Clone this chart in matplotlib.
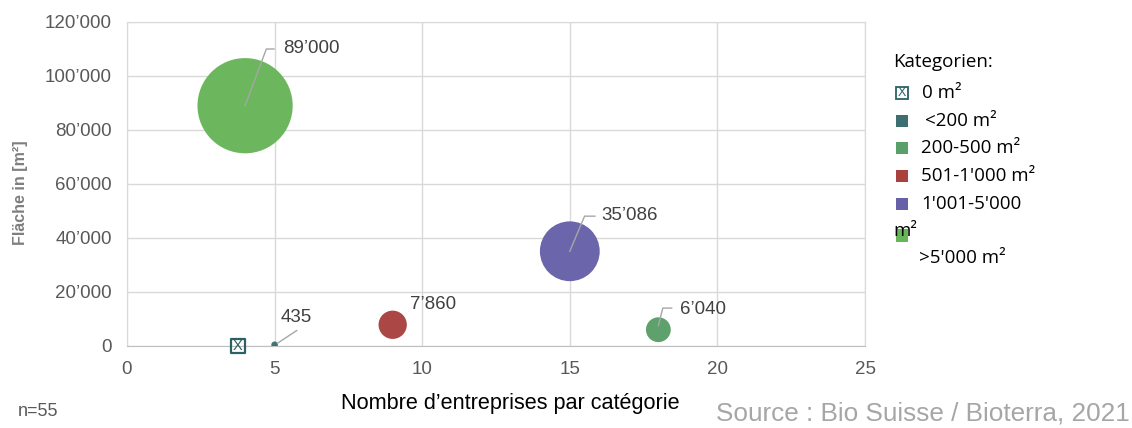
import matplotlib
matplotlib.use("Agg")
import matplotlib.pyplot as plt
from matplotlib.patches import Rectangle
from matplotlib.ticker import FuncFormatter

# Data
categories = ["0 m²", "<200 m²", "200-500 m²", "501-1'000 m²", "1'001-5'000 m²", ">5'000 m²"]
n_companies = [3.75, 5, 18, 9, 15, 4]
area_m2 = [0, 435, 6040, 7860, 35086, 89000]
labels = ["", "435", "6’040", "7’860", "35’086", "89’000"]
colors = ["#2b6163", "#3d6e70", "#5a9e68", "#a8413f", "#6660a8", "#67b559"]

W, H = 1132, 428
fig = plt.figure(figsize=(W / 100, H / 100), dpi=100)
ax = fig.add_axes([127 / W, 1 - 346 / H, (865 - 127) / W, (346 - 22) / H])

FONT = ["Liberation Sans", "DejaVu Sans"]
CAL = ["Open Sans", "DejaVu Sans"]
TICK_C = "#595959"
GRID_C = "#d9d9d9"

ax.set_xlim(0, 25)
ax.set_ylim(0, 120000)
ax.set_xticks([0, 5, 10, 15, 20, 25])
ax.set_yticks(range(0, 120001, 20000))
ax.yaxis.set_major_formatter(FuncFormatter(
    lambda v, p: "0" if v == 0 else f"{int(v):,}".replace(",", "’")))
ax.grid(True, color=GRID_C, lw=1)
ax.set_axisbelow(True)
for s in ax.spines.values():
    s.set_color(GRID_C)
ax.spines["bottom"].set_color("#bfbfbf")
ax.tick_params(length=0, labelsize=13.5, labelcolor=TICK_C, pad=11)
for t in ax.get_xticklabels() + ax.get_yticklabels():
    t.set_family(FONT)

scale = 4700 / 89000.0
# bubbles
for i in range(1, len(categories)):
    ax.scatter(n_companies[i], area_m2[i], s=max(area_m2[i] * scale, 14),
               color=colors[i], edgecolor="none", zorder=3, alpha=0.97)
# zero category marker
ax.scatter(n_companies[0], area_m2[0], s=105, marker="s", facecolor="none",
           edgecolor=colors[0], lw=1.6, zorder=4, clip_on=False)
ax.annotate("X", (n_companies[0], area_m2[0]), ha="center", va="center",
            fontsize=10.5, color=colors[0], family=FONT, zorder=5, annotation_clip=False)

# data labels (offsets in pixels)
lab_style = dict(fontsize=13.5, color="#404040", family=FONT, va="center", ha="left",
                 textcoords="offset pixels")
offsets = {1: (6, 27), 2: (22, 20), 3: (17, 20), 4: (32, 36), 5: (38, 57)}
for i, (dx, dy) in offsets.items():
    ax.annotate(labels[i], (n_companies[i], area_m2[i]), xytext=(dx, dy), **lab_style)

LC = "#a6a6a6"
ax.plot([n_companies[5], n_companies[5] + 0.72, n_companies[5] + 0.98],
        [area_m2[5], area_m2[5] + 21000, area_m2[5] + 21000], color=LC, lw=1, zorder=4)
ax.plot([n_companies[4], n_companies[4] + 0.5, n_companies[4] + 0.85],
        [area_m2[4], area_m2[4] + 13000, area_m2[4] + 13000], color=LC, lw=1, zorder=4)
ax.plot([n_companies[2], n_companies[2] + 0.15, n_companies[2] + 0.45],
        [area_m2[2] + 1500, area_m2[2] + 8000, area_m2[2] + 8000], color=LC, lw=1, zorder=4)
ax.plot([n_companies[1] + 0.1, n_companies[1] + 0.75],
        [area_m2[1] + 600, area_m2[1] + 5300], color=LC, lw=1, zorder=4)

# axis labels
fig.text(21 / W, 1 - 193 / H, "Fläche in [m²]", rotation=90, va="center", ha="center",
         fontsize=11.5, color="#7f7f7f", fontweight="bold", family=FONT)
fig.text(510 / W, 1 - 404 / H, "Nombre d’entreprises par catégorie", ha="center", va="center",
         fontsize=15.6, color="black", family=FONT)
fig.text(18 / W, 1 - 411 / H, "n=55", ha="left", va="center",
         fontsize=13, color="#595959", family=FONT)
fig.text(1130 / W, 1 - 414 / H, "Source : Bio Suisse / Bioterra, 2021", ha="right", va="center",
         fontsize=18.8, color="#a6a6a6", family=FONT)

# legend (manual)
lx = 896
LFS = 13.5
fig.text(893 / W, 1 - 62 / H, "Kategorien:", ha="left", va="center", fontsize=LFS,
         color="black", family=CAL)
rows = [(93, 0, "0 m²", 922), (121, 1, "<200 m²", 925), (148, 2, "200-500 m²", 921),
        (176, 3, "501-1'000 m²", 921), (204, 4, "1'001-5'000", 921)]
for yc, ci, txt, tx in rows:
    if ci == 0:
        fig.add_artist(Rectangle((lx / W, 1 - (yc + 6) / H), 12 / W, 12 / H,
                                 transform=fig.transFigure, facecolor="white",
                                 edgecolor=colors[0], lw=1.3))
        fig.text((lx + 6) / W, 1 - yc / H, "X", ha="center", va="center", fontsize=9,
                 color=colors[0], family=FONT)
    else:
        fig.add_artist(Rectangle((lx / W, 1 - (yc + 6) / H), 12 / W, 12 / H,
                                 transform=fig.transFigure, facecolor=colors[ci],
                                 edgecolor="none"))
    fig.text(tx / W, 1 - yc / H, txt, ha="left", va="center", fontsize=LFS,
             color="black", family=CAL)
fig.add_artist(Rectangle((lx / W, 1 - 242 / H), 12 / W, 13 / H,
                         transform=fig.transFigure, facecolor=colors[5], edgecolor="none"))
fig.text(893 / W, 1 - 231 / H, "m²", ha="left", va="center", fontsize=LFS,
         color="black", family=CAL)
fig.text(919 / W, 1 - 258 / H, ">5'000 m²", ha="left", va="center", fontsize=LFS,
         color="black", family=CAL)

fig.savefig("out.png", dpi=100)
